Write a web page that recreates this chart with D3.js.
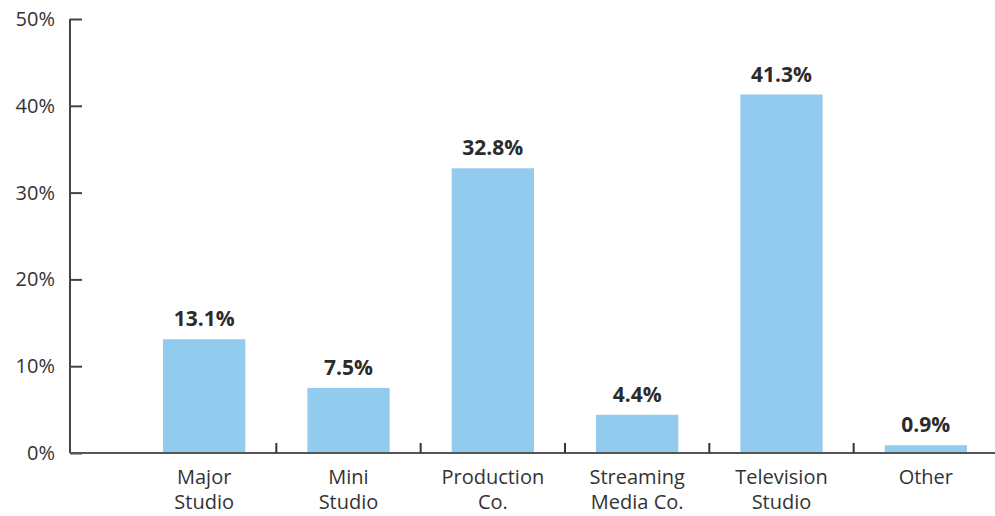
<!DOCTYPE html>
<html><head><meta charset="utf-8">
<script src="https://cdn.jsdelivr.net/npm/d3@7"></script>
<style>
html,body{margin:0;padding:0;background:#fff;}
text{font-family:"Open Sans","Noto Sans",sans-serif;}
</style></head>
<body><svg id="c" width="995" height="516"></svg>
<script>
const categories = [["Major","Studio"],["Mini","Studio"],["Production","Co."],["Streaming","Media Co."],["Television","Studio"],["Other"]];
const values = [13.1, 7.5, 32.8, 4.4, 41.3, 0.9];
const yTicks = [0,10,20,30,40,50];

const svg = d3.select("#c");
const axisLeft = 70, plotLeft = 132, plotRight = 998, y0 = 453, yTop = 19;
const keys = categories.map((c,i)=>i);
const x = d3.scaleBand().domain(keys).range([plotLeft, plotRight]).paddingInner(0.43).paddingOuter(0.215);
const y = d3.scaleLinear().domain([0,50]).range([y0, yTop]);
const bandStep = x.step();

// bars
svg.selectAll("rect.bar").data(values).join("rect")
  .attr("x",(d,i)=>x(i)).attr("width",x.bandwidth())
  .attr("y",d=>y(d)).attr("height",d=>y0-y(d)).attr("fill","#93CBEE");

// value labels
svg.selectAll("text.val").data(values).join("text")
  .attr("x",(d,i)=>x(i)+x.bandwidth()/2).attr("y",d=>y(d)-13)
  .attr("text-anchor","middle").attr("font-size",21).attr("font-weight",700)
  .attr("fill","#2b2b2b").text(d=>d.toFixed(1)+"%");

// y axis
const ya = d3.axisLeft(y).tickValues(yTicks).tickFormat(d=>d+"%").tickSize(-12).tickPadding(15);
const yg = svg.append("g").attr("transform",`translate(${axisLeft},0)`).call(ya);
yg.select(".domain").attr("stroke","#444").attr("stroke-width",2).attr("d",`M0,${yTop}V${y0}`);
yg.selectAll(".tick line").attr("stroke","#444").attr("stroke-width",2);
yg.selectAll(".tick text").attr("font-size",20).attr("fill","#333").attr("font-family","'Open Sans',sans-serif");

// x axis line
svg.append("line").attr("x1",axisLeft).attr("x2",995).attr("y1",y0).attr("y2",y0)
  .attr("stroke","#555").attr("stroke-width",2);
// separators
const seps = keys.slice(1);
svg.selectAll("line.sep").data(seps).join("line")
  .attr("x1",i=>x(i)-(bandStep-x.bandwidth())/2).attr("x2",i=>x(i)-(bandStep-x.bandwidth())/2)
  .attr("y1",y0-10).attr("y2",y0).attr("stroke","#333").attr("stroke-width",2);

// category labels
const cl = svg.selectAll("text.cat").data(categories).join("text")
  .attr("text-anchor","middle").attr("font-size",20).attr("fill","#333");
cl.each(function(lines,i){
  const t = d3.select(this);
  lines.forEach((ln,j)=>{
    t.append("tspan").attr("x",x(i)+x.bandwidth()/2).attr("y",484+j*25).text(ln);
  });
});
</script></body></html>
